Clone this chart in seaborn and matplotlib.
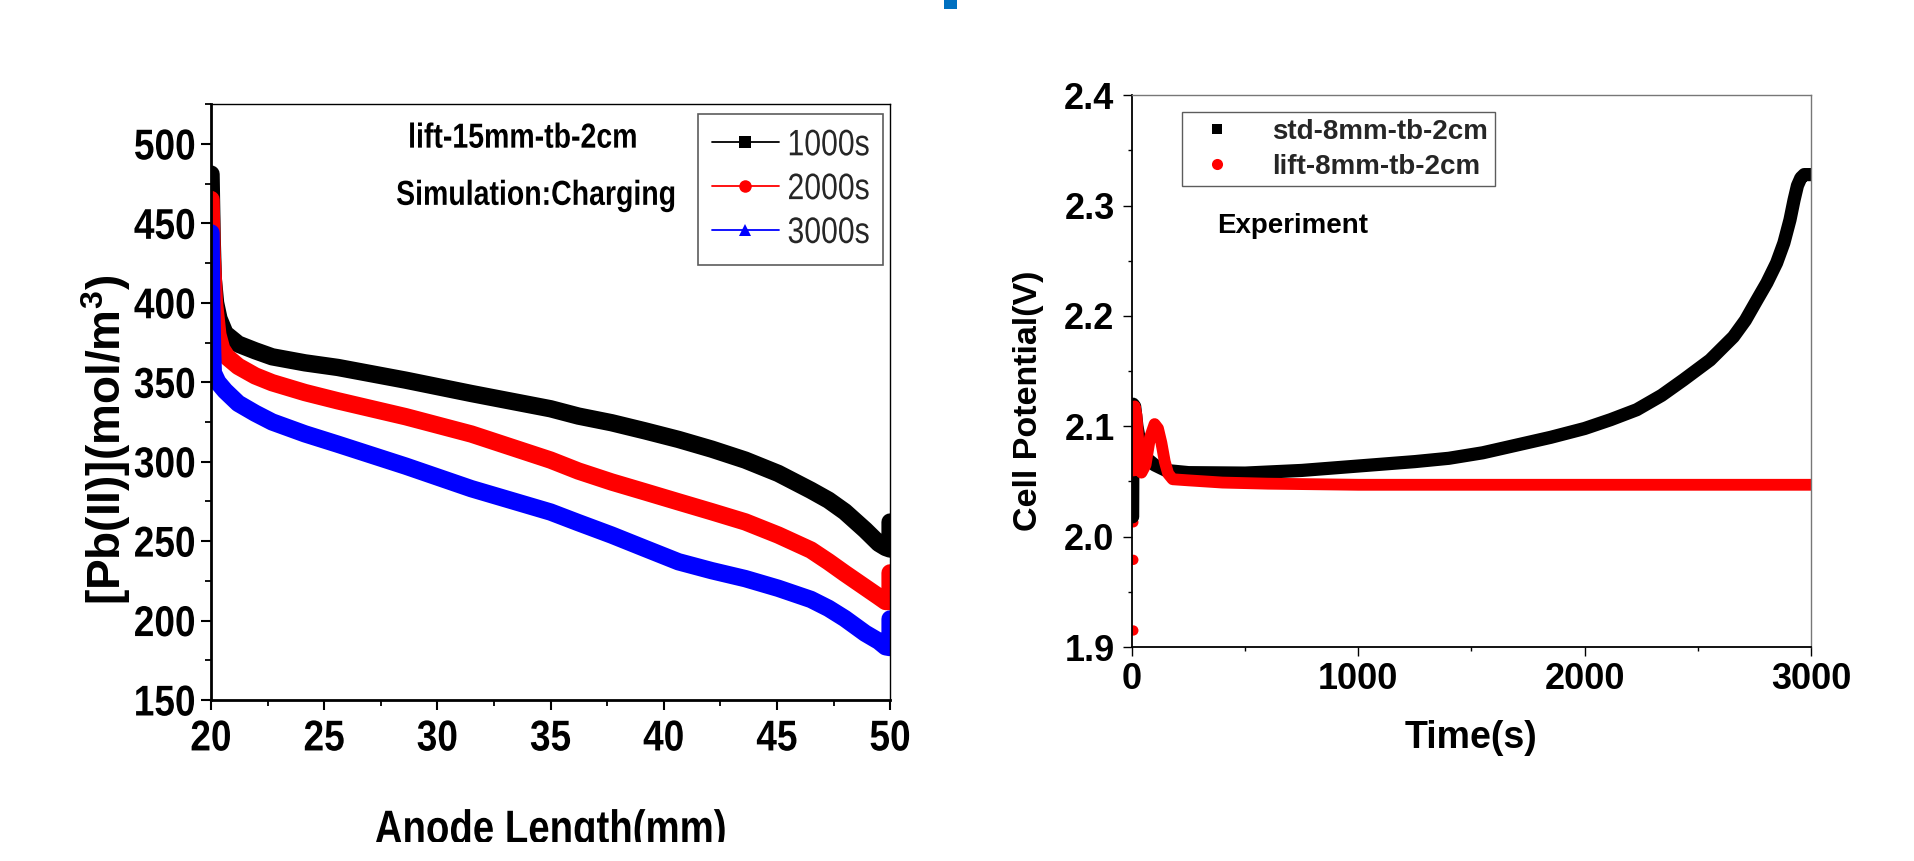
import matplotlib
matplotlib.use("Agg")
import matplotlib.pyplot as plt
from matplotlib.font_manager import FontProperties
from matplotlib.lines import Line2D
from matplotlib.patches import Rectangle
from matplotlib.patheffects import AbstractPathEffect
from matplotlib.transforms import Affine2D
from matplotlib.ticker import MultipleLocator, FormatStrFormatter
import seaborn as sns

# ---------------- left panel: simulated [Pb(II)] along the anode ----------------
length_1000 = [20.0, 20.05, 20.1, 20.2, 20.35, 20.62, 21.2, 21.95, 22.7, 24.15, 25.6, 28.6,
               31.5, 35.0, 36.23, 37.7, 39.17, 40.65, 42.12, 43.6, 45.06, 46.5, 47.28, 48.0,
               48.9, 49.5, 49.8, 50.0, 50.0]
conc_1000 = [481, 440, 415, 400, 390, 380.7, 374, 369.8, 366, 362.2, 359.3, 351.3,
             342.9, 333.3, 328.7, 324.5, 319.4, 314, 307.9, 301, 292.6, 282, 275.8, 268.5,
             257, 248.6, 246, 245, 262]

length_2000 = [20.0, 20.05, 20.15, 20.3, 20.47, 20.7, 21.2, 21.95, 22.7, 24.15, 25.6, 28.6,
               31.5, 35.0, 36.23, 37.7, 39.17, 40.65, 42.12, 43.6, 45.06, 46.5, 47.28, 48.0,
               49.5, 49.8, 50.0, 50.0]
conc_2000 = [465, 430, 400, 380, 371, 366, 360, 354, 349.7, 343.5, 338.3, 328.3,
             317.4, 301, 294.1, 287.2, 281, 274.7, 268.5, 262.1, 253.8, 244.4, 237, 229.7,
             215, 212, 212, 230]

length_3000 = [20.0, 20.03, 20.07, 20.1, 20.3, 20.62, 21.2, 21.95, 22.7, 24.15, 25.6, 28.6,
               31.5, 35.0, 36.23, 37.7, 39.17, 40.65, 42.12, 43.6, 45.06, 46.5, 47.28, 48.0,
               48.9, 49.5, 49.8, 50.0, 50.0]
conc_3000 = [444, 400, 370, 356, 350, 344.6, 336.7, 330.5, 325, 317.5, 311, 297.2,
             283, 268.3, 261.6, 253.8, 245.4, 237, 231.4, 226.4, 220.3, 213.3, 207.7, 201.3,
             192, 187, 183.5, 183, 201]

sim_labels = ["1000s", "2000s", "3000s"]
sim_colors = ["#000000", "#ff0000", "#0000ff"]
sim_markers = ["s", "o", "^"]

# ---------------- right panel: measured cell potential ----------------
time_std = [3, 5, 12, 22, 40, 70, 100, 150, 250, 500, 750, 1000, 1250, 1400, 1550, 1700,
            1850, 2000, 2115, 2230, 2340, 2436, 2554, 2657, 2710, 2760, 2805, 2848, 2880,
            2907, 2925, 2940, 2955, 2970, 3000]
volt_std = [2.018, 2.120, 2.118, 2.100, 2.080, 2.070, 2.065, 2.060, 2.058, 2.0576, 2.060,
            2.064, 2.068, 2.071, 2.076, 2.083, 2.090, 2.098, 2.106, 2.115, 2.128, 2.142,
            2.160, 2.181, 2.196, 2.214, 2.230, 2.248, 2.266, 2.287, 2.305, 2.318, 2.325,
            2.328, 2.328]

time_lift = [8, 12, 20, 30, 42, 60, 80, 100, 115, 130, 145, 160, 180, 250, 400, 600,
             1000, 1500, 2000, 2500, 3000]
volt_lift = [2.060, 2.118, 2.110, 2.080, 2.058, 2.065, 2.090, 2.102, 2.098, 2.085, 2.068,
             2.057, 2.052, 2.051, 2.049, 2.048, 2.047, 2.047, 2.047, 2.047, 2.047]

time_lift_start = [6, 6, 6, 6]
volt_lift_start = [2.035, 2.013, 1.979, 1.915]

exp_labels = ["std-8mm-tb-2cm", "lift-8mm-tb-2cm"]


class Condense(AbstractPathEffect):
    """Squeeze glyph outlines horizontally about a chosen edge (or the centre)."""

    def __init__(self, sx=0.82, anchor="center"):
        super().__init__()
        self.sx = sx
        self.anchor = anchor

    def draw_path(self, renderer, gc, tpath, affine, rgbFace=None):
        v = tpath.vertices
        if len(v):
            lo, hi = v[:, 0].min(), v[:, 0].max()
            cx = {"left": lo, "right": hi}.get(self.anchor, 0.5 * (lo + hi))
        else:
            cx = 0.0
        squeeze = Affine2D().translate(-cx, 0).scale(self.sx, 1.0).translate(cx, 0)
        renderer.draw_path(gc, tpath, squeeze + affine, rgbFace)


sns.set_theme(style="ticks")
FAMILY = "Liberation Sans"
plt.rcParams["font.family"] = [FAMILY, "DejaVu Sans"]
plt.rcParams["mathtext.default"] = "regular"


def fp(size, weight="bold"):
    return FontProperties(family=FAMILY, size=size, weight=weight)


fig = plt.figure(figsize=(19.15, 8.61), dpi=100, facecolor="white")
axL = fig.add_axes([0.1102, 0.187, 0.3546, 0.692])
axR = fig.add_axes([0.5911, 0.2485, 0.3546, 0.641])

# ---------------- left panel ----------------
for xs, ys, c in zip([length_1000, length_2000, length_3000],
                     [conc_1000, conc_2000, conc_3000], sim_colors):
    sns.lineplot(x=xs, y=ys, ax=axL, color=c, linewidth=12.5, sort=False,
                 estimator=None, legend=False, solid_joinstyle="round")

axL.set_xlim(20, 50)
axL.set_ylim(150, 525)
axL.set_xticks([20, 25, 30, 35, 40, 45, 50])
axL.set_yticks([150, 200, 250, 300, 350, 400, 450, 500])
axL.xaxis.set_minor_locator(MultipleLocator(2.5))
axL.yaxis.set_minor_locator(MultipleLocator(25))
axL.tick_params(which="major", direction="out", length=7, width=1.5, color="black")
axL.tick_params(which="minor", direction="out", length=4, width=1.3, color="black")
axL.tick_params(axis="x", which="major", pad=7)
axL.tick_params(axis="y", which="major", pad=0.5)
for lbl in axL.get_xticklabels() + axL.get_yticklabels():
    lbl.set_fontproperties(fp(31))
    lbl.set_color("black")
    lbl.set_path_effects([Condense(0.86)])
for side, lw in [("left", 2.0), ("bottom", 2.0), ("top", 1.0), ("right", 1.0)]:
    axL.spines[side].set_visible(True)
    axL.spines[side].set_linewidth(lw)
    axL.spines[side].set_color("black")

axL.set_xlabel("Anode Length(mm)", fontproperties=fp(33.7), color="black")
axL.xaxis.label.set_path_effects([Condense(0.82)])
axL.xaxis.label.set_va("baseline")
axL.xaxis.set_label_coords(0.5, -0.240)
axL.set_ylabel("[Pb(II)](mol/m$^3$)", fontproperties=fp(33), color="black")
axL.yaxis.label.set_va("center")
axL.yaxis.set_label_coords(-0.1546, 0.436)

for xa, ya, s in [(0.4595, 0.943, "lift-15mm-tb-2cm"), (0.4787, 0.847, "Simulation:Charging")]:
    t = axL.text(xa, ya, s, transform=axL.transAxes, ha="center", va="center",
                 fontproperties=fp(25), color="black")
    t.set_path_effects([Condense(0.82)])

handlesL = [Line2D([], [], color=c, lw=1.3, marker=m, markersize=9, markeredgewidth=0)
            for c, m in zip(sim_colors, sim_markers)]
legL = axL.legend(handlesL, sim_labels, loc="upper right", bbox_to_anchor=(0.99, 0.983),
                  borderaxespad=0, frameon=True, fancybox=False, edgecolor="#333333",
                  prop=fp(26.5, "normal"), handlelength=1.82, handletextpad=-0.25,
                  labelspacing=0.24, borderpad=0.38)
legL.get_frame().set_linewidth(1.2)
for t in legL.get_texts():
    t.set_path_effects([Condense(0.82, "right")])

# ---------------- right panel ----------------
sns.lineplot(x=time_std, y=volt_std, ax=axR, color="black", linewidth=9.5, sort=False,
             estimator=None, legend=False, solid_joinstyle="round")
sns.lineplot(x=time_lift, y=volt_lift, ax=axR, color="#ff0000", linewidth=8.5, sort=False,
             estimator=None, legend=False, solid_joinstyle="round")
sns.scatterplot(x=time_lift_start, y=volt_lift_start, ax=axR, color="#ff0000", s=55,
                marker="o", edgecolor="none", legend=False)

axR.set_xlim(0, 3000)
axR.set_ylim(1.9, 2.4)
axR.set_xticks([0, 1000, 2000, 3000])
axR.set_yticks([1.9, 2.0, 2.1, 2.2, 2.3, 2.4])
axR.xaxis.set_minor_locator(MultipleLocator(500))
axR.yaxis.set_minor_locator(MultipleLocator(0.05))
axR.yaxis.set_major_formatter(FormatStrFormatter("%.1f"))
axR.tick_params(which="major", direction="out", length=6.5, width=1.0, color="black", pad=4)
axR.tick_params(which="minor", direction="out", length=3, width=1.0, color="black")
axR.tick_params(axis="y", which="major", pad=6)
for lbl in axR.get_xticklabels() + axR.get_yticklabels():
    lbl.set_fontproperties(fp(26))
    lbl.set_color("black")
for side, lw, col in [("left", 1.3, "black"), ("bottom", 1.3, "black"),
                      ("top", 1.0, "#777777"), ("right", 1.0, "#777777")]:
    axR.spines[side].set_visible(True)
    axR.spines[side].set_linewidth(lw)
    axR.spines[side].set_color(col)

axR.set_xlabel("Time(s)", fontproperties=fp(27), color="black")
axR.xaxis.label.set_va("center")
axR.xaxis.set_label_coords(0.5, -0.165)
axR.set_ylabel("Cell Potential(V)", fontproperties=fp(24.5), color="black")
axR.yaxis.label.set_va("center")
axR.yaxis.set_label_coords(-0.153, 0.447)

handlesR = [Line2D([], [], ls="none", marker="s", color="black", markersize=7, markeredgewidth=0),
            Line2D([], [], ls="none", marker="o", color="#ff0000", markersize=8, markeredgewidth=0)]
legR = axR.legend(handlesR, exp_labels, loc="upper left", bbox_to_anchor=(0.0736, 0.969),
                  borderaxespad=0, frameon=True, fancybox=False, edgecolor="#333333",
                  prop=fp(20), handlelength=2.0, handletextpad=1.0,
                  labelspacing=0.3, borderpad=0.25)
legR.get_frame().set_linewidth(1.0)

axR.text(0.125, 0.763, "Experiment", transform=axR.transAxes, ha="left", va="center",
         fontproperties=fp(20), color="black")

# small accent block at the top edge
fig.add_artist(Rectangle((944 / 1915, 1 - 9 / 861), 13 / 1915, 9 / 861,
                         transform=fig.transFigure, facecolor="#0070C0",
                         edgecolor="none", zorder=50))
# blank strip along the bottom edge
fig.add_artist(Rectangle((0, 0), 1, 19 / 861, transform=fig.transFigure,
                         facecolor="white", edgecolor="none", zorder=100))

fig.savefig("out.png", dpi=100, facecolor="white")
